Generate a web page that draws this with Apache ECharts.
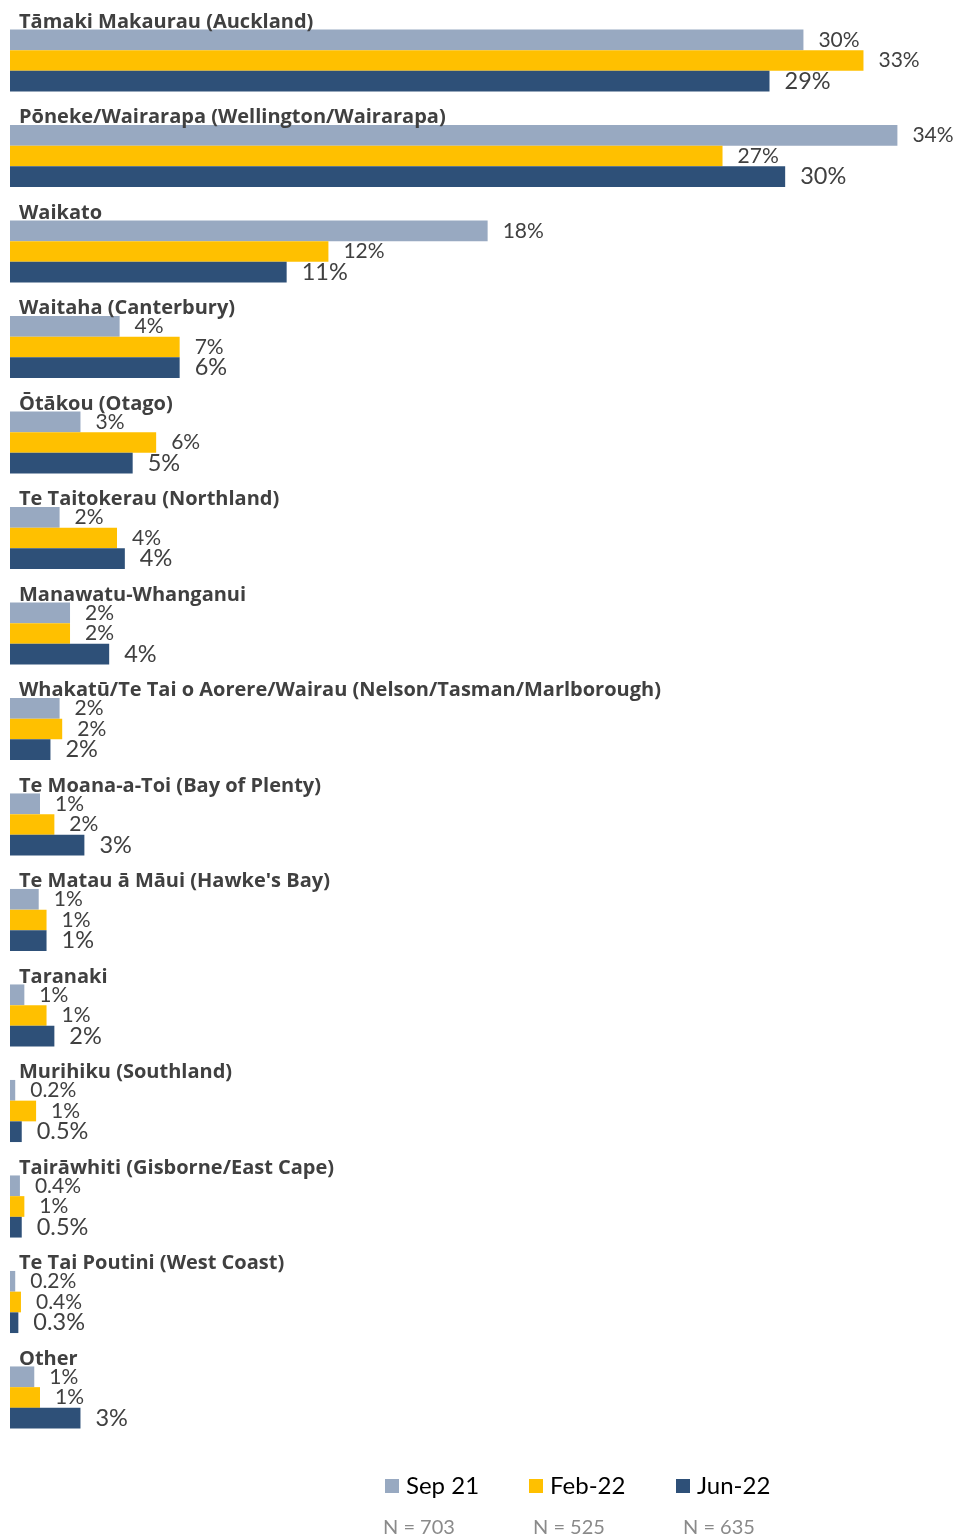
<!DOCTYPE html>
<html>
<head>
<meta charset="utf-8">
<script src="https://cdn.jsdelivr.net/npm/echarts@6/dist/echarts.min.js"></script>
<style>
  html, body { margin: 0; padding: 0; background: #fff; }
  #chart { width: 958px; height: 1539px; }
</style>
</head>
<body>
<div id="chart"></div>
<script>
// regions, top to bottom
const regions = [
  'Tāmaki Makaurau (Auckland)',
  'Pōneke/Wairarapa (Wellington/Wairarapa)',
  'Waikato',
  'Waitaha (Canterbury)',
  'Ōtākou (Otago)',
  'Te Taitokerau (Northland)',
  'Manawatu-Whanganui',
  'Whakatū/Te Tai o Aorere/Wairau (Nelson/Tasman/Marlborough)',
  'Te Moana-a-Toi (Bay of Plenty)',
  'Te Matau ā Māui (Hawke\'s Bay)',
  'Taranaki',
  'Murihiku (Southland)',
  'Tairāwhiti (Gisborne/East Cape)',
  'Te Tai Poutini (West Coast)',
  'Other'
];

const seriesNames = ['Sep 21', 'Feb-22', 'Jun-22'];
const sampleSizes = ['N = 703', 'N = 525', 'N = 635'];

// bar values (%)
const sep21 = [30.4, 34.0, 18.3, 4.2, 2.7, 1.9, 2.3, 1.9, 1.15, 1.1, 0.55, 0.2, 0.38, 0.2, 0.93];
const feb22 = [32.7, 27.3, 12.2, 6.5, 5.6, 4.1, 2.3, 2.0, 1.7, 1.4, 1.4, 1.0, 0.55, 0.42, 1.15];
const jun22 = [29.1, 29.7, 10.6, 6.5, 4.7, 4.4, 3.8, 1.55, 2.85, 1.4, 1.7, 0.45, 0.45, 0.32, 2.7];

// data labels as printed on the chart
const sepLabels = ['30%', '34%', '18%', '4%', '3%', '2%', '2%', '2%', '1%', '1%', '1%', '0.2%', '0.4%', '0.2%', '1%'];
const febLabels = ['33%', '27%', '12%', '7%', '6%', '4%', '2%', '2%', '2%', '1%', '1%', '1%', '1%', '0.4%', '1%'];
const junLabels = ['29%', '30%', '11%', '6%', '5%', '4%', '4%', '2%', '3%', '1%', '2%', '0.5%', '0.5%', '0.3%', '3%'];

const colors = ['#98A9C1', '#FFC000', '#2E5078'];
const legendLeft = [385, 529, 676];

const chart = echarts.init(document.getElementById('chart'));

function makeSeries(name, values, labels, color, fontSize) {
  return {
    name: name,
    type: 'bar',
    data: values,
    barWidth: 20.7,
    barGap: '0%',
    itemStyle: { color: color },
    animation: false,
    label: {
      show: true,
      position: 'right',
      distance: 15,
      fontFamily: 'Lato',
      fontSize: fontSize,
      color: '#404040',
      padding: [3, 0, 0, 0],
      formatter: (p) => labels[p.dataIndex]
    }
  };
}

const options = {
  backgroundColor: '#fff',
  color: colors,
  grid: { left: 10, right: 60.6, top: 12.75, bottom: 93.75 },
  xAxis: {
    type: 'value',
    min: 0,
    max: 34,
    show: false
  },
  yAxis: {
    type: 'category',
    data: regions,
    inverse: true,
    z: 10,
    axisLine: { show: false },
    axisTick: { show: false },
    splitLine: { show: false },
    axisLabel: {
      inside: true,
      interval: 0,
      margin: 9,
      align: 'left',
      verticalAlign: 'middle',
      // push the region name above its group of bars
      formatter: (v) => '{t|' + v + '}\n{s| }',
      rich: {
        t: {
          fontFamily: 'Open Sans',
          fontWeight: 'bold',
          fontSize: 20,
          lineHeight: 24,
          color: '#404040'
        },
        s: { fontSize: 1, lineHeight: 77 }
      }
    }
  },
  // one legend per series so each item sits where it does in the original
  legend: seriesNames.map((n, i) => ({
    data: [n],
    left: legendLeft[i],
    top: 1474,
    padding: 0,
    itemWidth: 14,
    itemHeight: 14,
    itemGap: 0,
    icon: 'rect',
    textStyle: { fontFamily: 'Lato', fontSize: 24, color: '#000', padding: [0, 0, 0, 2] }
  })),
  graphic: sampleSizes.map((t, i) => ({
    type: 'text',
    left: 383 + i * 150,
    top: 1518,
    style: { text: t, fontFamily: 'Lato', fontSize: 20, fill: '#8a8a8a' }
  })),
  series: [
    makeSeries(seriesNames[0], sep21, sepLabels, colors[0], 21),
    makeSeries(seriesNames[1], feb22, febLabels, colors[1], 21),
    makeSeries(seriesNames[2], jun22, junLabels, colors[2], 23.5)
  ]
};

chart.setOption(options);
</script>
</body>
</html>
